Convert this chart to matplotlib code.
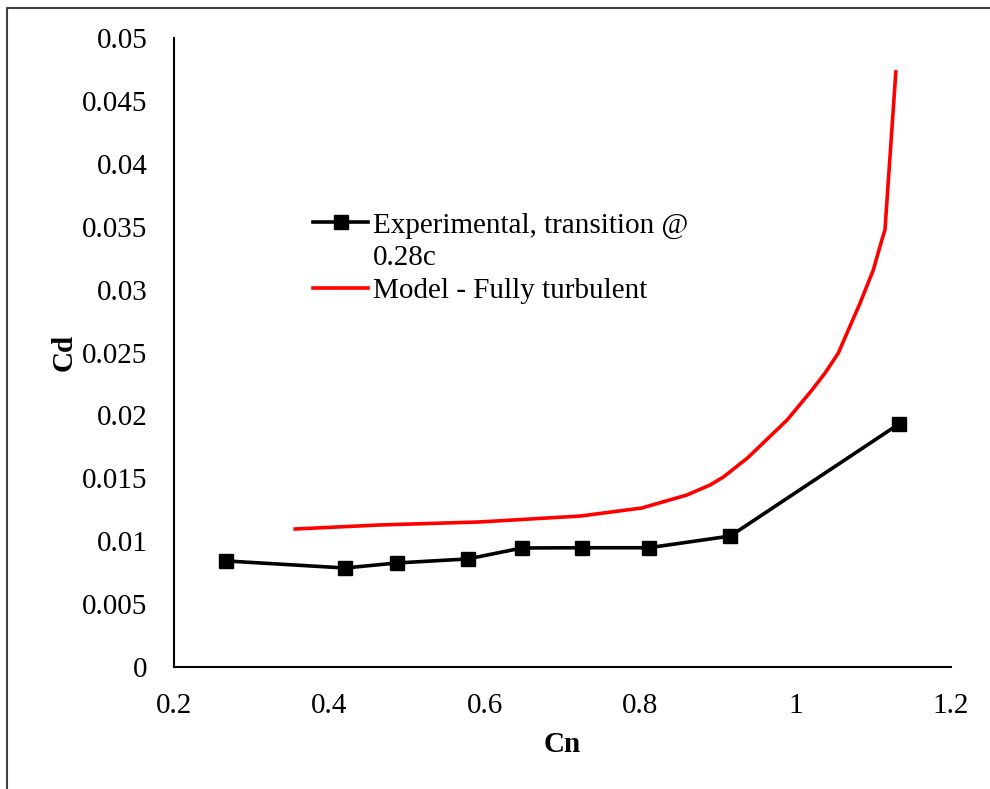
import matplotlib
matplotlib.use("Agg")
import matplotlib.pyplot as plt
from matplotlib.lines import Line2D

plt.rcParams['font.family'] = ['Liberation Serif', 'DejaVu Serif']

# Experimental data, transition at 0.28c
exp_cn = [0.267, 0.420, 0.487, 0.578, 0.648, 0.725, 0.811, 0.916, 1.133]
exp_cd = [0.00843, 0.00787, 0.00827, 0.00859, 0.00946, 0.00948, 0.00948, 0.01041, 0.01932]

# Model prediction, fully turbulent
mod_cn = [0.356, 0.465, 0.594, 0.723, 0.802, 0.860, 0.890, 0.907, 0.938,
          0.989, 1.019, 1.038, 1.055, 1.083, 1.100, 1.111, 1.115, 1.129]
mod_cd = [0.01097, 0.01129, 0.01153, 0.01200, 0.01264, 0.01367, 0.01447, 0.01510, 0.01661,
          0.01963, 0.02186, 0.02337, 0.02496, 0.02893, 0.03156, 0.03394, 0.03474, 0.04730]

xticks = [0.2, 0.4, 0.6, 0.8, 1.0, 1.2]
xtick_labels = ['0.2', '0.4', '0.6', '0.8', '1', '1.2']
yticks = [0, 0.005, 0.01, 0.015, 0.02, 0.025, 0.03, 0.035, 0.04, 0.045, 0.05]
ytick_labels = ['0', '0.005', '0.01', '0.015', '0.02', '0.025', '0.03', '0.035', '0.04', '0.045', '0.05']

W, H = 990, 789
fig = plt.figure(figsize=(W / 100, H / 100), dpi=100)
ax = fig.add_axes([174 / W, 1 - 667 / H, (951 - 174) / W, (667 - 38) / H])

ax.plot(exp_cn, exp_cd, color='black', lw=2.6, marker='s', markersize=10,
        label='Experimental, transition @')
ax.plot(mod_cn, mod_cd, color='#ff0000', lw=2.6, label='Model - Fully turbulent')

ax.set_xlim(0.2, 1.2)
ax.set_ylim(0, 0.05)
ax.set_xticks(xticks)
ax.set_xticklabels(xtick_labels)
ax.set_yticks(yticks)
ax.set_yticklabels(ytick_labels)
ax.tick_params(length=0, labelsize=21)
ax.tick_params(axis='x', pad=19)
ax.tick_params(axis='y', pad=19)

for s in ['top', 'right']:
    ax.spines[s].set_visible(False)
for s in ['left', 'bottom']:
    ax.spines[s].set_linewidth(1.5)
    ax.spines[s].set_color('black')

ax.set_xlabel('Cn', fontsize=21, fontweight='bold', labelpad=8)
ax.set_ylabel('Cd', fontsize=21, fontweight='bold', labelpad=3)

h1 = Line2D([], [], color='black', lw=2.6, marker='s', markersize=10)
h_blank = Line2D([], [], color='none')
h2 = Line2D([], [], color='#ff0000', lw=2.6)
ax.legend([h1, h_blank, h2], ['Experimental, transition @', '0.28c', 'Model - Fully turbulent'],
          loc='upper left', bbox_to_anchor=(0.179, 0.723), frameon=False, fontsize=21,
          handlelength=1.9, handletextpad=0.15, labelspacing=0.21, borderaxespad=0,
          borderpad=0)

# outer frame
fig.add_artist(Line2D([7 / W, 7 / W, 1.0], [0.0, 1 - 8 / H, 1 - 8 / H],
                      transform=fig.transFigure, color='#404040', lw=1.5))

fig.savefig('out.png', dpi=100)
